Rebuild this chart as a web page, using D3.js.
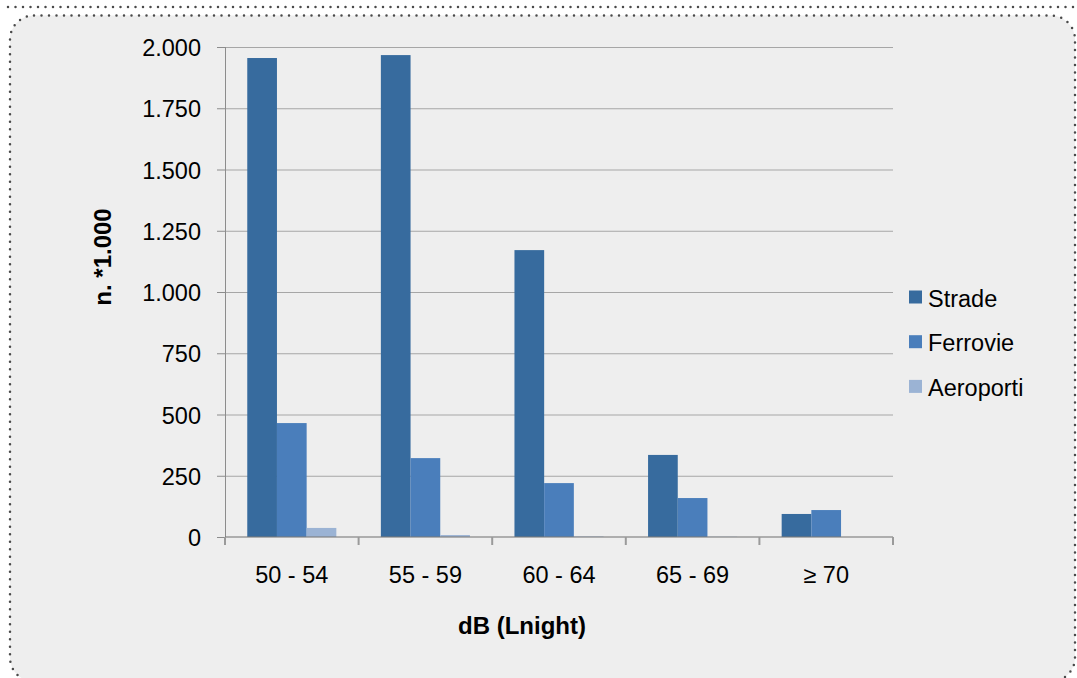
<!DOCTYPE html>
<html>
<head>
<meta charset="utf-8">
<script src="https://cdn.jsdelivr.net/npm/d3@7"></script>
<style>
html,body{margin:0;padding:0;background:#fff;}
svg{display:block;}
text{font-family:"Liberation Sans",Arial,sans-serif;fill:#000;}
</style>
</head>
<body>
<svg id="chart" width="1077" height="678"></svg>
<script>
const categories = ["50 - 54", "55 - 59", "60 - 64", "65 - 69", "\u2265 70"];
const seriesNames = ["Strade", "Ferrovie", "Aeroporti"];
const strade = [1955, 1967, 1171, 335, 94];
const ferrovie = [465, 322, 220, 159, 110];
const aeroporti = [37, 8, 2, 1, 0];
const yTicks = [0, 250, 500, 750, 1000, 1250, 1500, 1750, 2000];
const colors = ["#376b9e", "#4a7ebb", "#9bb3d4"];
const yTitle = "n. *1.000";
const xTitle = "dB (Lnight)";

const values = [strade, ferrovie, aeroporti];
const svg = d3.select("#chart");

// frame
svg.append("line").attr("x1", 8).attr("x2", 1077).attr("y1", 7).attr("y2", 7)
  .attr("stroke", "#4a4a4a").attr("stroke-width", 2.5).attr("stroke-linecap", "round")
  .attr("stroke-dasharray", "0 7.5");
svg.append("rect").attr("x", 10).attr("y", 15.5).attr("width", 1065).attr("height", 666)
  .attr("rx", 24).attr("ry", 24).attr("fill", "#eeeeee")
  .attr("stroke", "#4a4a4a").attr("stroke-width", 2.5).attr("stroke-linecap", "round")
  .attr("stroke-dasharray", "0 7.5");

const pLeft = 225, pRight = 893, pTop = 47, pBottom = 537;
const x0 = d3.scaleBand().domain(categories).range([pLeft, pRight]).padding(0);
const x1 = d3.scaleBand().domain(seriesNames).range([0, x0.bandwidth()]).paddingInner(0).paddingOuter(0.75);
const y = d3.scaleLinear().domain([0, 2000]).range([pBottom, pTop]);
const loc = d3.formatLocale({decimal: ",", thousands: ".", grouping: [3], currency: ["", ""]});
const fmt = loc.format(",d");

// gridlines
svg.append("g").selectAll("line").data(yTicks.filter(d => d > 0)).join("line")
  .attr("x1", pLeft).attr("x2", pRight)
  .attr("y1", d => y(d) + 0.5).attr("y2", d => y(d) + 0.5)
  .attr("stroke", "#a6a6a6").attr("stroke-width", 1);

// bars
const data = [];
categories.forEach((c, i) => seriesNames.forEach((s, j) => data.push({c, s, v: values[j][i], j})));
svg.append("g").selectAll("rect").data(data).join("rect")
  .attr("x", d => x0(d.c) + x1(d.s))
  .attr("width", x1.bandwidth())
  .attr("y", d => y(d.v))
  .attr("height", d => pBottom - y(d.v))
  .attr("fill", d => colors[d.j]);

// y axis
svg.append("line").attr("x1", pLeft + 0.5).attr("x2", pLeft + 0.5).attr("y1", pTop).attr("y2", pBottom)
  .attr("stroke", "#8c8c8c").attr("stroke-width", 1);
svg.append("g").selectAll("line").data(yTicks).join("line")
  .attr("x1", pLeft - 8).attr("x2", pLeft)
  .attr("y1", d => y(d) + 0.5).attr("y2", d => y(d) + 0.5)
  .attr("stroke", "#8c8c8c").attr("stroke-width", 1);
svg.append("g").selectAll("text").data(yTicks).join("text")
  .attr("x", 201).attr("y", d => y(d) + 9)
  .attr("text-anchor", "end").attr("font-size", 23.5)
  .text(d => fmt(d));

// x axis
svg.append("line").attr("x1", pLeft).attr("x2", pRight).attr("y1", pBottom).attr("y2", pBottom)
  .attr("stroke", "#7a7a7a").attr("stroke-opacity", 0.55).attr("stroke-width", 2);
const xTickPos = categories.map(c => x0(c)).concat([pRight]);
svg.append("g").selectAll("line").data(xTickPos).join("line")
  .attr("x1", d => d).attr("x2", d => d).attr("y1", pBottom).attr("y2", pBottom + 8)
  .attr("stroke", "#9a9a9a").attr("stroke-width", 2);
svg.append("g").selectAll("text").data(categories).join("text")
  .attr("x", d => x0(d) + x0.bandwidth() / 2).attr("y", 583)
  .attr("text-anchor", "middle").attr("font-size", 23.5)
  .text(d => d);

// titles
svg.append("text").attr("x", 522).attr("y", 634).attr("text-anchor", "middle")
  .attr("font-size", 24).attr("font-weight", "bold").text(xTitle);
svg.append("text").attr("transform", "translate(111,257) rotate(-90)")
  .attr("text-anchor", "middle").attr("font-size", 24).attr("font-weight", "bold").text(yTitle);

// legend
const lg = svg.append("g").selectAll("g").data(seriesNames).join("g")
  .attr("transform", (d, i) => `translate(909,${297 + i * 44.7})`);
lg.append("rect").attr("x", 0).attr("y", -6.5).attr("width", 13).attr("height", 13)
  .attr("fill", (d, i) => colors[i]);
lg.append("text").attr("x", 19).attr("y", 9.5).attr("font-size", 23.5).text(d => d);
</script>
</body>
</html>
